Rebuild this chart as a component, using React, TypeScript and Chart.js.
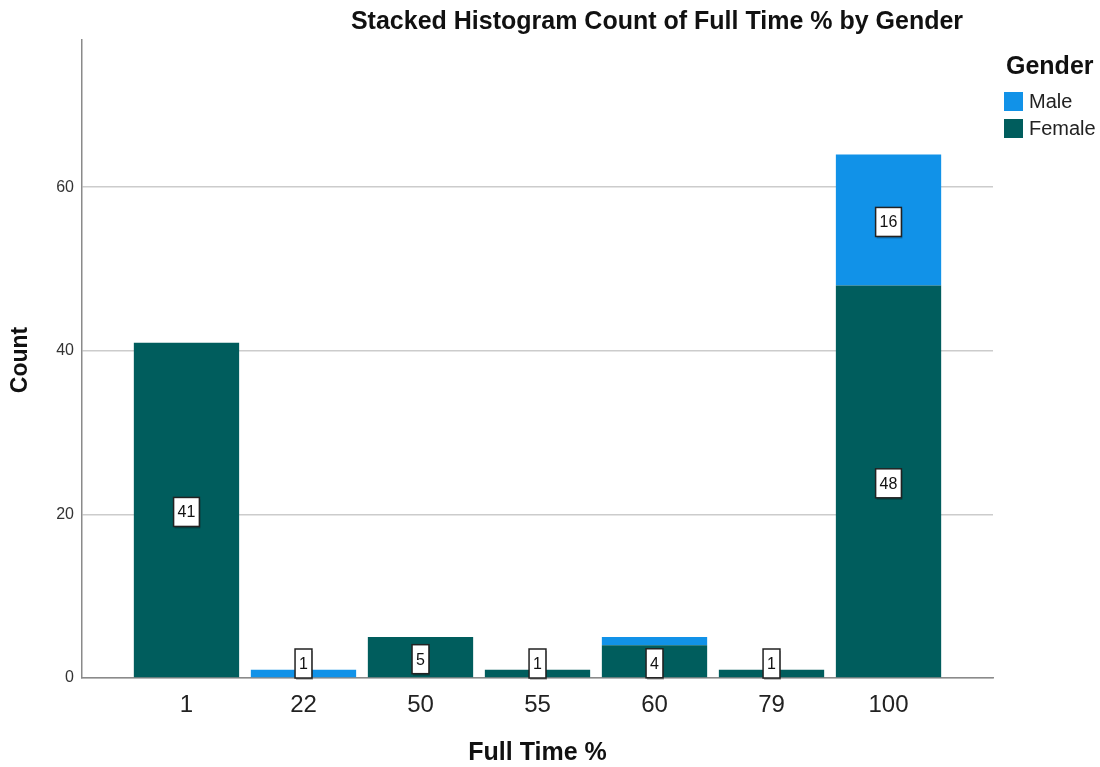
import React, { useEffect, useRef } from 'react';
import { Chart, registerables } from 'chart.js';

Chart.register(...registerables);

const categories = ['1', '22', '50', '55', '60', '79', '100'];
const maleCounts = [0, 1, 0, 0, 1, 0, 16];
const femaleCounts = [41, 0, 5, 1, 4, 1, 48];
const maleLabels: (number | null)[] = [null, 1, null, null, null, null, 16];
const femaleLabels: (number | null)[] = [41, null, 5, 1, 4, 1, 48];
const yTicks = [0, 20, 40, 60];

const FONT = '"Liberation Sans", Arial, sans-serif';
const MALE = '#1192e8';
const FEMALE = '#005d5d';

const labelPlugin = {
  id: 'barLabels',
  afterDatasetsDraw(chart: any) {
    const ctx = chart.ctx;
    const bottom = chart.chartArea.bottom;
    const sets = [femaleLabels, maleLabels];
    ctx.save();
    ctx.font = `16px ${FONT}`;
    ctx.textAlign = 'center';
    ctx.textBaseline = 'middle';
    sets.forEach((labels, di) => {
      const meta = chart.getDatasetMeta(di);
      meta.data.forEach((el: any, i: number) => {
        const v = labels[i];
        if (v === null || v === undefined) return;
        const h = 29;
        const text = String(v);
        const w = ctx.measureText(text).width + 8;
        let cy = (el.y + el.base) / 2 + 2;
        if (cy > bottom - h / 2) cy = bottom - h / 2;
        const cx = el.x;
        ctx.fillStyle = 'rgba(0,0,0,0.25)';
        ctx.fillRect(cx - w / 2 + 1, cy - h / 2 + 2, w, h);
        ctx.fillStyle = '#ffffff';
        ctx.fillRect(cx - w / 2, cy - h / 2, w, h);
        ctx.strokeStyle = '#222';
        ctx.lineWidth = 1.5;
        ctx.strokeRect(cx - w / 2, cy - h / 2, w, h);
        ctx.fillStyle = '#111';
        ctx.fillText(text, cx, cy + 1);
      });
    });
    ctx.restore();
  },
};

const textPlugin = {
  id: 'texts',
  afterDraw(chart: any) {
    const ctx = chart.ctx;
    const area = chart.chartArea;
    ctx.save();
    ctx.fillStyle = '#111';
    ctx.textBaseline = 'middle';
    // Title
    ctx.textAlign = 'center';
    ctx.font = `bold 25px ${FONT}`;
    ctx.fillText('Stacked Histogram Count of Full Time % by Gender', 657, 22, 622);
    // X axis title
    ctx.font = `bold 25px ${FONT}`;
    ctx.fillText('Full Time %', (area.left + area.right) / 2, 753);
    // Y axis title
    ctx.save();
    ctx.font = `bold 23px ${FONT}`;
    ctx.translate(21, 360);
    ctx.rotate(-Math.PI / 2);
    ctx.fillText('Count', 0, 0);
    ctx.restore();
    // Legend
    ctx.textAlign = 'left';
    ctx.font = `bold 25px ${FONT}`;
    ctx.fillText('Gender', 1006, 67);
    ctx.fillStyle = MALE;
    ctx.fillRect(1004, 92, 19, 19);
    ctx.fillStyle = FEMALE;
    ctx.fillRect(1004, 119, 19, 19);
    ctx.fillStyle = '#222';
    ctx.font = `20px ${FONT}`;
    ctx.fillText('Male', 1029, 102);
    ctx.fillText('Female', 1029, 129);
    ctx.restore();
  },
};

export default function App() {
  const ref = useRef<HTMLCanvasElement | null>(null);
  useEffect(() => {
    if (!ref.current) return;
    const chart = new Chart(ref.current, {
      type: 'bar',
      data: {
        datasets: [
          {
            label: 'Female',
            data: femaleCounts.map((v, i) => ({ x: i, y: v })),
            backgroundColor: FEMALE,
            categoryPercentage: 1,
            barPercentage: 0.9,
          },
          {
            label: 'Male',
            data: maleCounts.map((v, i) => ({ x: i, y: v })),
            backgroundColor: MALE,
            categoryPercentage: 1,
            barPercentage: 0.9,
          },
        ],
      },
      options: {
        animation: false,
        responsive: false,
        maintainAspectRatio: false,
        layout: { padding: { top: 40, right: 107, left: 0, bottom: 0 } },
        plugins: {
          legend: { display: false },
          title: { display: false },
          tooltip: { enabled: false },
        },
        scales: {
          x: {
            type: 'linear',
            stacked: true,
            offset: false,
            min: -0.893,
            max: 6.893,
            afterBuildTicks: (axis: any) => {
              axis.ticks = categories.map((_, i) => ({ value: i }));
            },
            afterFit: (scale: any) => {
              scale.height = 89;
            },
            grid: { display: false, drawTicks: false, offset: false },
            border: { color: '#8a8a8a', width: 1.5 },
            ticks: {
              autoSkip: false,
              maxRotation: 0,
              padding: 13,
              color: '#222',
              font: { family: FONT, size: 24 },
              callback: (v: any) => categories[v as number] ?? '',
            },
          },
          y: {
            stacked: true,
            min: 0,
            max: 78,
            afterBuildTicks: (axis: any) => {
              axis.ticks = yTicks.map((v) => ({ value: v }));
            },
            afterFit: (scale: any) => {
              scale.width = 82;
            },
            grid: { color: '#cccccc', lineWidth: 1.5, drawTicks: false },
            border: { color: '#8a8a8a', width: 1.5 },
            ticks: {
              padding: 8,
              color: '#333',
              font: { family: FONT, size: 16 },
            },
          },
        },
      },
      plugins: [labelPlugin, textPlugin],
    } as any);
    return () => chart.destroy();
  }, []);
  return (
    <div style={{ position: 'absolute', left: 0, top: 0, width: 1100, height: 767, background: '#fff' }}>
      <canvas ref={ref} width={1100} height={767} />
    </div>
  );
}
